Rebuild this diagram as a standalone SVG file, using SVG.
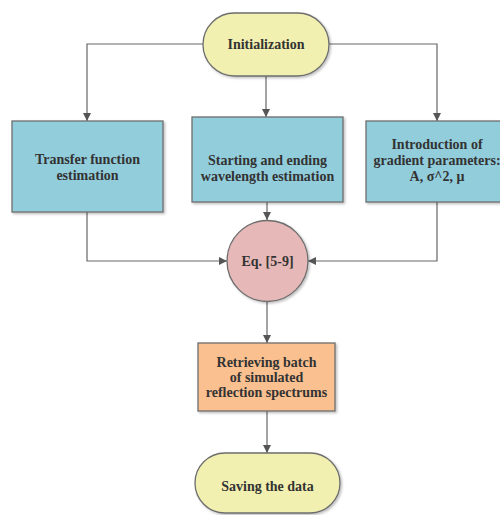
<svg xmlns="http://www.w3.org/2000/svg" width="500" height="515" viewBox="0 0 500 515">
<defs>
<marker id="arr" viewBox="0 0 10 10" refX="10" refY="5" markerWidth="8" markerHeight="8" markerUnits="userSpaceOnUse" orient="auto">
<path d="M0,0 L10,5 L0,10 z" fill="#555"/>
</marker>
<filter id="sh" x="-10%" y="-10%" width="130%" height="130%">
<feDropShadow dx="1.5" dy="1.5" stdDeviation="1" flood-color="#000" flood-opacity="0.25"/>
</filter>
</defs>
<style>
.s{stroke:#6e6e6e;stroke-width:1.3;filter:url(#sh)}
.y{fill:#f2f0b0}
.b{fill:#92cddc}
.p{fill:#e6b8b7}
.o{fill:#fac090}
text{font-family:"Liberation Serif","Times New Roman",serif;font-weight:bold;font-size:14px;fill:#333;text-anchor:middle}
.c{fill:none;stroke:#666;stroke-width:1.2;marker-end:url(#arr)}
</style>
<rect width="500" height="515" fill="#fff"/>
<g id="connectors">
<polyline class="c" points="203,44 87,44 87,121"/>
<polyline class="c" points="266,76 266,117"/>
<polyline class="c" points="329,44 437,44 437,121"/>
<polyline class="c" points="87,212 87,261 227,261"/>
<polyline class="c" points="267,202 267,220"/>
<polyline class="c" points="437,202 437,261 308,261"/>
<polyline class="c" points="267,302 267,343"/>
<polyline class="c" points="267,411 267,453"/>
</g>
<g id="init">
<rect class="s y" x="203" y="13" width="126" height="63" rx="31.5"/>
<text x="266" y="49">Initialization</text>
</g>
<g id="transfer">
<rect class="s b" x="12" y="121" width="151" height="91"/>
<text x="87.5" y="164">Transfer function</text>
<text x="87.5" y="180">estimation</text>
</g>
<g id="wavelength">
<rect class="s b" x="192" y="117" width="151" height="85"/>
<text x="267.5" y="165">Starting and ending</text>
<text x="267.5" y="181">wavelength estimation</text>
</g>
<g id="gradient">
<rect class="s b" x="366" y="121" width="142" height="81"/>
<text x="437" y="149">Introduction of</text>
<text x="437" y="165">gradient parameters:</text>
<text x="437" y="181">A, σ^2, μ</text>
</g>
<g id="eq">
<circle class="s p" cx="267.5" cy="261" r="40.5"/>
<text x="267.5" y="266">Eq. [5-9]</text>
</g>
<g id="retrieve">
<rect class="s o" x="198" y="343" width="137" height="68"/>
<text x="266.5" y="367">Retrieving batch</text>
<text x="266.5" y="382">of simulated</text>
<text x="266.5" y="397">reflection spectrums</text>
</g>
<g id="save">
<rect class="s y" x="195" y="453" width="145" height="60" rx="30"/>
<text x="267.5" y="491">Saving the data</text>
</g>
</svg>
